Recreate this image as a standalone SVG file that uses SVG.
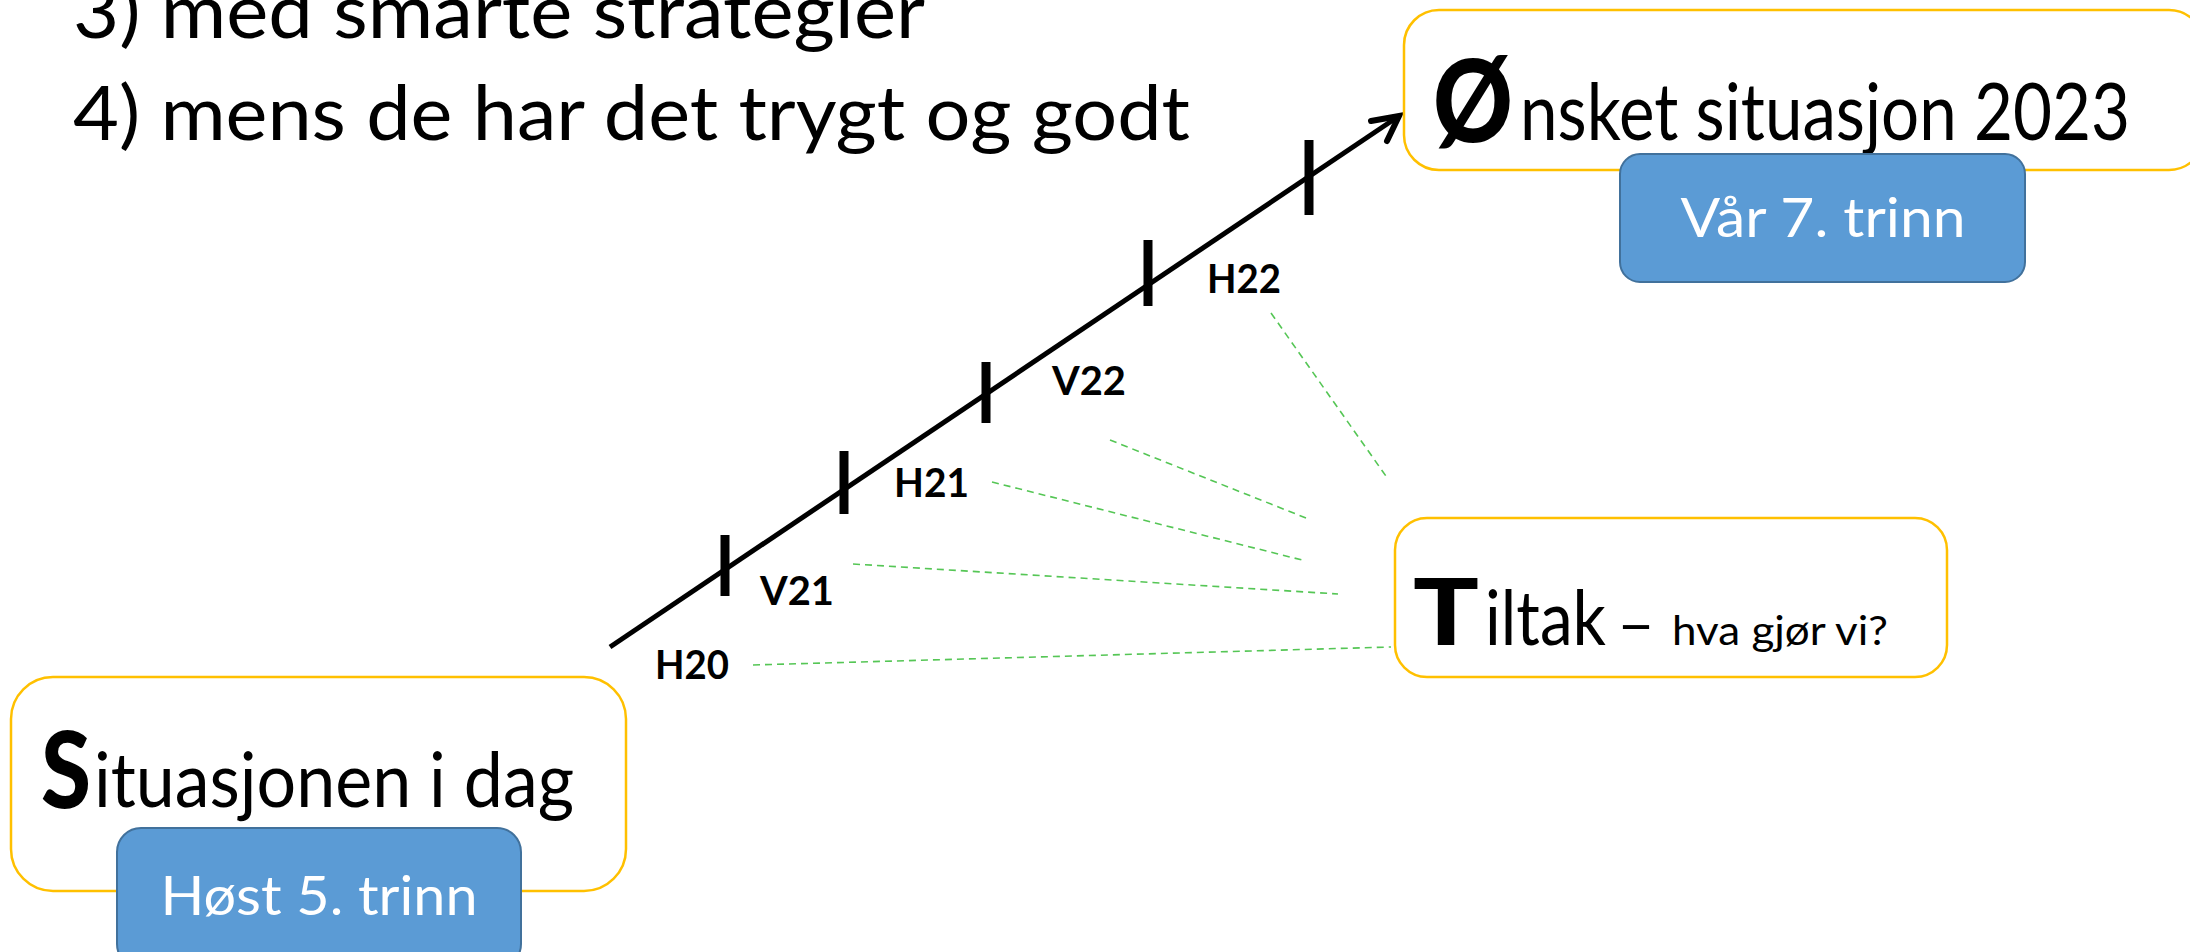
<svg xmlns="http://www.w3.org/2000/svg" width="2190" height="952" viewBox="0 0 2190 952">
<style>
.txt{font-family:Lato,"Open Sans","Liberation Sans",sans-serif;fill:#000}
.big{font-weight:900}
.lbl{font-family:Lato,"Open Sans","Liberation Sans",sans-serif;font-weight:bold;font-size:41px;fill:#000}
.ybox{fill:#fff;stroke:#FFC000;stroke-width:2.5}
.bbox{fill:#5B9BD5;stroke:#41719C;stroke-width:2}
.wt{font-family:Lato,"Open Sans","Liberation Sans",sans-serif;font-size:55px;fill:#fff}
.dash{stroke:#55C655;stroke-width:1.6;stroke-dasharray:7 5;fill:none}
.tick{stroke:#000;stroke-width:9}
</style>
<rect width="2190" height="952" fill="#fff"/>
<g id="intro">
<text class="txt" x="73" y="38" font-size="76" textLength="852" lengthAdjust="spacingAndGlyphs">3) med smarte strategier</text>
<text class="txt" x="73" y="140" font-size="76" textLength="1117" lengthAdjust="spacingAndGlyphs">4) mens de har det trygt og godt</text>
</g>
<g id="connectors">
<line x1="610" y1="647" x2="1396" y2="118" stroke="#000" stroke-width="5"/>
<polyline points="1371,121 1399,116 1387,141" fill="none" stroke="#000" stroke-width="6" stroke-linejoin="miter" stroke-linecap="round"/>
<line class="tick" x1="725" y1="535" x2="725" y2="596"/>
<line class="tick" x1="844" y1="451" x2="844" y2="514"/>
<line class="tick" x1="986" y1="362" x2="986" y2="423"/>
<line class="tick" x1="1148" y1="240" x2="1148" y2="306"/>
<line class="tick" x1="1309" y1="140" x2="1309" y2="215"/>
<line class="dash" x1="1271" y1="313" x2="1388" y2="479"/>
<line class="dash" x1="1110" y1="440" x2="1306" y2="518"/>
<line class="dash" x1="992" y1="482" x2="1306" y2="561"/>
<line class="dash" x1="853" y1="564" x2="1338" y2="594"/>
<line class="dash" x1="753" y1="665" x2="1391" y2="647"/>
</g>
<g id="labels">
<text class="lbl" x="1207" y="293" textLength="74" lengthAdjust="spacingAndGlyphs">H22</text>
<text class="lbl" x="1052" y="395" textLength="74" lengthAdjust="spacingAndGlyphs">V22</text>
<text class="lbl" x="894" y="497" textLength="75" lengthAdjust="spacingAndGlyphs">H21</text>
<text class="lbl" x="760" y="605" textLength="74" lengthAdjust="spacingAndGlyphs">V21</text>
<text class="lbl" x="655" y="679" textLength="74" lengthAdjust="spacingAndGlyphs">H20</text>
</g>
<g id="onsket">
<rect class="ybox" x="1404" y="10" width="800" height="160" rx="35"/>
<text class="txt" y="142"><tspan class="big" x="1433" font-size="114" textLength="80" lengthAdjust="spacingAndGlyphs">Ø</tspan></text>
<text class="txt" x="1520" y="140" font-size="80" textLength="610" lengthAdjust="spacingAndGlyphs">nsket situasjon 2023</text>
</g>
<g id="var7">
<rect class="bbox" x="1620" y="154" width="405" height="128" rx="20"/>
<text class="wt" x="1823" y="237" text-anchor="middle" textLength="285" lengthAdjust="spacingAndGlyphs">Vår 7. trinn</text>
</g>
<g id="tiltak">
<rect class="ybox" x="1395" y="518" width="552" height="159" rx="32"/>
<text class="txt big" x="1413" y="645" font-size="92" textLength="66" lengthAdjust="spacingAndGlyphs">T</text>
<text class="txt" x="1485" y="645" font-size="76" textLength="121" lengthAdjust="spacingAndGlyphs">iltak</text>
<text class="txt" x="1617" y="645" font-size="60" textLength="38" lengthAdjust="spacingAndGlyphs">–</text>
<text class="txt" x="1672" y="645" font-size="40" textLength="216" lengthAdjust="spacingAndGlyphs">hva gjør vi?</text>
</g>
<g id="situasjon">
<rect class="ybox" x="11" y="677" width="615" height="214" rx="42"/>
<text class="txt big" x="41" y="808" font-size="106" textLength="50" lengthAdjust="spacingAndGlyphs">S</text>
<text class="txt" x="94" y="807" font-size="76" textLength="480" lengthAdjust="spacingAndGlyphs">ituasjonen i dag</text>
</g>
<g id="host5">
<rect class="bbox" x="117" y="828" width="404" height="140" rx="24"/>
<text class="wt" x="319" y="915" text-anchor="middle" textLength="317" lengthAdjust="spacingAndGlyphs">Høst 5. trinn</text>
</g>
</svg>
